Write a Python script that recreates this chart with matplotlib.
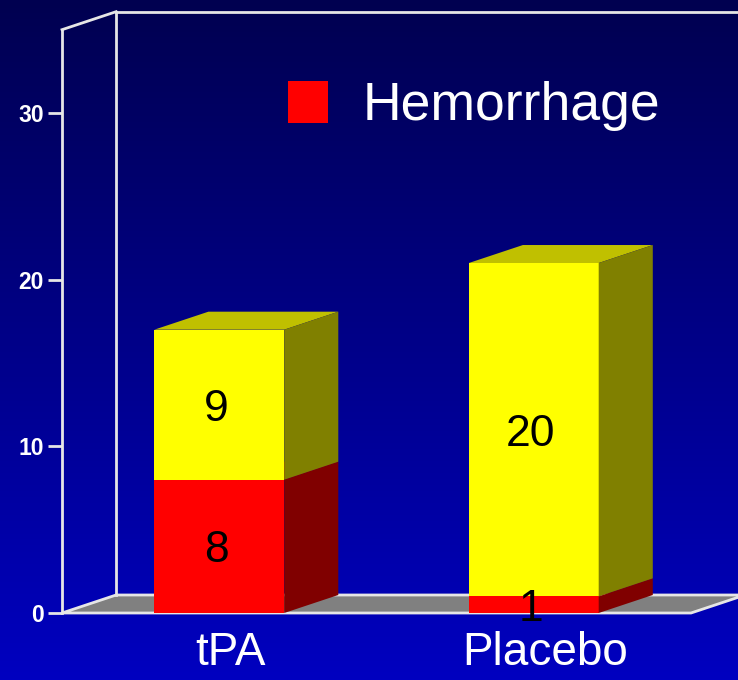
import numpy as np
import matplotlib
matplotlib.use('Agg')
import matplotlib.pyplot as plt
from matplotlib.patches import Polygon, Patch
from matplotlib.colors import LinearSegmentedColormap

plt.rcParams['font.family'] = ['Liberation Sans', 'DejaVu Sans']

categories = ['tPA', 'Placebo']
hemorrhage = [8, 1]
other = [9, 20]
yticks = [0, 10, 20, 30]

W, H = 738, 680
fig = plt.figure(figsize=(W / 100, H / 100), dpi=100)

# gradient background
bg = fig.add_axes([0, 0, 1, 1])
grad = np.linspace(0, 1, 256).reshape(-1, 1)
cmap = LinearSegmentedColormap.from_list('bg', ['#000050', '#0000c0'])
bg.imshow(grad, aspect='auto', cmap=cmap, extent=[0, 1, 0, 1], origin='upper')
bg.axis('off')

# front plane of the 3d box: pixels 62..691 horizontally, 613..30 vertically
ax = fig.add_axes([62 / W, (H - 613) / H, 629 / W, 583.3 / H])
ax.set_xlim(-0.5, 1.5)
ax.set_ylim(0, 35)
ax.patch.set_alpha(0)
for s in ax.spines.values():
    s.set_visible(False)

dx, dy = 0.172, 1.08  # depth offset in data units
edge = '#e6e6e6'
x0, x1, ytop = -0.5, 1.5, 35

# floor
ax.add_patch(Polygon([(x0, 0), (x1, 0), (x1 + dx, dy), (x0 + dx, dy)],
                     closed=True, facecolor='#808080', edgecolor=edge,
                     lw=2, clip_on=False, zorder=1))
# left wall and back wall outlines
kw = dict(color=edge, lw=2, clip_on=False, zorder=1.5)
ax.plot([x0, x0], [0, ytop], **kw)
ax.plot([x0, x0 + dx], [ytop, ytop + dy], **kw)
ax.plot([x0 + dx, x0 + dx], [dy, ytop + dy], **kw)
ax.plot([x0 + dx, x1 + 0.2], [ytop + dy, ytop + dy], **kw)

# stacked 3d bars
x = np.arange(len(categories))
bw = 0.413
segments = [(hemorrhage, '#ff0000', '#800000', '#c00000'),
            (other, '#ffff00', '#808000', '#c0c000')]
bottom = np.zeros(len(categories))
for vals, front, side, top in segments:
    vals = np.array(vals, dtype=float)
    ax.bar(x, vals, bw, bottom=bottom, color=front, zorder=3)
    for xi, b, v in zip(x, bottom, vals):
        r = xi + bw / 2
        l = xi - bw / 2
        ax.add_patch(Polygon([(r, b), (r + dx, b + dy), (r + dx, b + v + dy), (r, b + v)],
                             closed=True, facecolor=side, edgecolor='none', zorder=3, clip_on=False))
        ax.add_patch(Polygon([(l, b + v), (r, b + v), (r + dx, b + v + dy), (l + dx, b + v + dy)],
                             closed=True, facecolor=top, edgecolor='none', zorder=2.9, clip_on=False))
        ax.text(xi - 0.01, b + v / 2, str(int(v)), ha='center', va='center_baseline',
                fontsize=32, color='black', zorder=5)
    bottom = bottom + vals

# axes ticks
ax.set_yticks(yticks)
ax.set_yticklabels([str(t) for t in yticks], fontsize=16.5, fontweight='bold', color='white')
ax.tick_params(axis='y', length=10, width=2, color=edge, pad=3)
ax.set_xticks(x + 0.035)
ax.set_xticklabels(categories, fontsize=33, color='white')
ax.tick_params(axis='x', length=0, pad=13)

# legend
leg = fig.legend(handles=[Patch(facecolor='#ff0000', edgecolor='none')],
                 labels=['Hemorrhage'], loc='center left',
                 bbox_to_anchor=(288 / W, 1 - 106 / H), frameon=False,
                 fontsize=38.5, handlelength=0.75, handleheight=0.85,
                 handletextpad=0.65, borderpad=0, borderaxespad=0)
for t in leg.get_texts():
    t.set_color('white')

fig.savefig('out.png', dpi=100)
